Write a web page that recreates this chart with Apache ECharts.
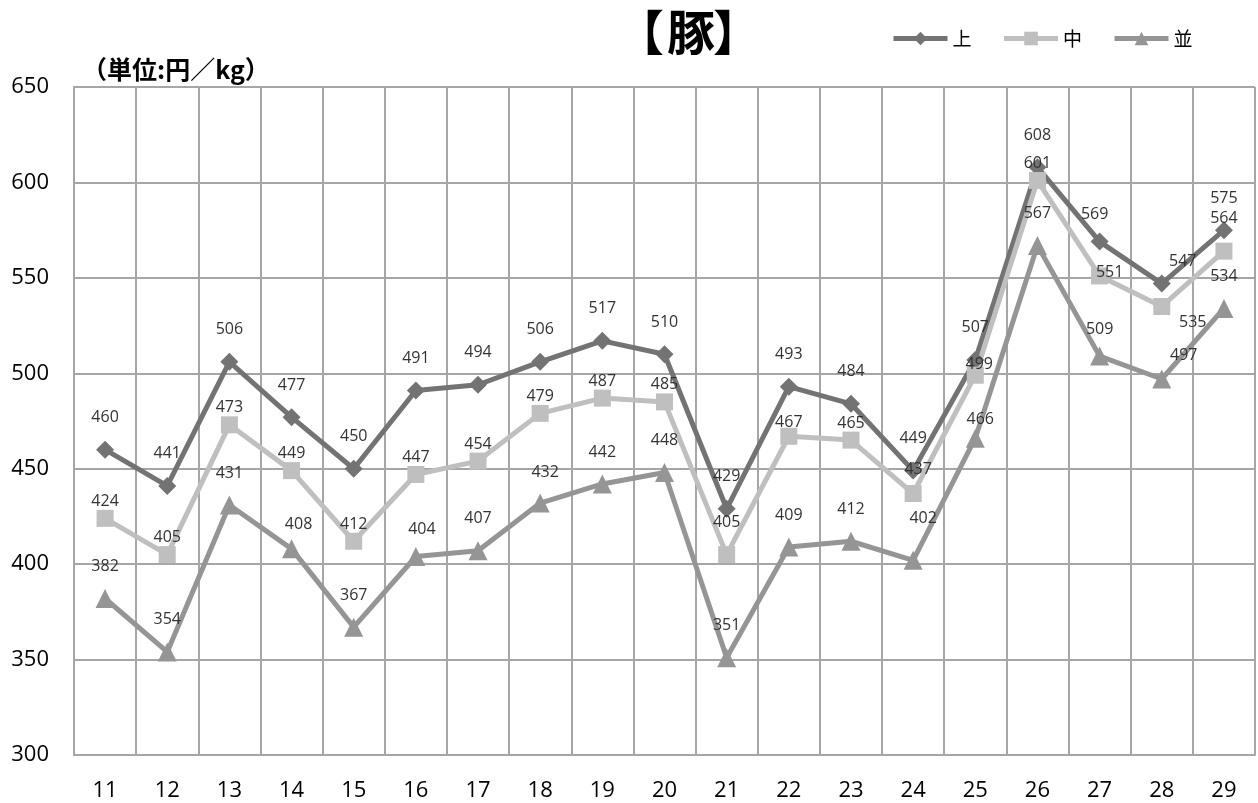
<!DOCTYPE html>
<html><head><meta charset="utf-8">
<script src="https://cdn.jsdelivr.net/npm/echarts@6/dist/echarts.min.js"></script>
<style>html,body{margin:0;padding:0;background:#fff}#c{width:1258px;height:803px}</style>
</head><body><div id="c"></div>
<script>
const categories = ['11','12','13','14','15','16','17','18','19','20','21','22','23','24','25','26','27','28','29'];
const seriesNames = ['上','中','並'];
const joValues   = [460,441,506,477,450,491,494,506,517,510,429,493,484,449,507,608,569,547,575];
const nakaValues = [424,405,473,449,412,447,454,479,487,485,405,467,465,437,499,601,551,535,564];
const namiValues = [382,354,431,408,367,404,407,432,442,448,351,409,412,402,466,567,509,497,534];
const yMin = 300, yMax = 650, yInterval = 50;

// presentation only: label offsets relative to the marker
const labelDefaultDy = [-32, -17, -32];
const labelOffsetOverrides = [
  {16:[-5,-27], 17:[21,-22]},
  {10:[0,-32], 11:[0,-14], 13:[5,-24], 14:[4,-11], 16:[10,-4], 17:[31,16], 18:[0,-33]},
  {3:[7,-24], 5:[6,-27], 7:[5,-31], 13:[10,-42], 14:[5,-19], 16:[0,-27], 17:[22,-24]}
];
const colors = ['#737373', '#bfbfbf', '#959595'];
const symbols = ['diamond', 'rect', 'triangle'];
const symbolSizes = [18, 17, 19];
const allValues = [joValues, nakaValues, namiValues];
const gridColor = '#a6a6a6';
const numFont = 'Open Sans';
const cjkFont = 'Noto Sans CJK JP';

const chart = echarts.init(document.getElementById('c'));
const series = allValues.map((vals, si) => ({
  name: seriesNames[si],
  type: 'line',
  data: vals.map((v, i) => ({
    value: v,
    label: { offset: labelOffsetOverrides[si][i] || [0, labelDefaultDy[si]] }
  })),
  symbol: symbols[si],
  symbolSize: symbolSizes[si],
  itemStyle: { color: colors[si] },
  lineStyle: { color: colors[si], width: 5 },
  label: { show: true, position: 'inside', color: '#333', fontSize: 16, fontFamily: numFont },
  emphasis: { disabled: true },
  animation: false
}));

chart.setOption({
  animation: false,
  backgroundColor: '#fff',
  grid: { left: 74, right: 3, top: 87, bottom: 48, containLabel: false },
  legend: {
    data: seriesNames,
    left: 886, top: 24,
    itemWidth: 54, itemHeight: 17, itemGap: 30,
    lineStyle: { width: 5 },
    textStyle: { fontSize: 19, color: '#000', fontFamily: cjkFont }
  },
  graphic: [
    { type: 'text', left: 616, top: 8, style: { text: '【', fontSize: 48, fontWeight: 'bold', fontFamily: cjkFont, fill: '#000' } },
    { type: 'text', left: 667, top: 8, style: { text: '豚', fontSize: 48, fontWeight: 'bold', fontFamily: cjkFont, fill: '#000' } },
    { type: 'text', left: 713, top: 8, style: { text: '】', fontSize: 48, fontWeight: 'bold', fontFamily: cjkFont, fill: '#000' } },
    { type: 'text', left: 82, top: 57, style: { text: '（単位:円／kg）', fontSize: 25, fontWeight: 'bold', fontFamily: cjkFont, fill: '#000' } }
  ],
  xAxis: {
    type: 'category', data: categories, boundaryGap: true,
    axisLine: { show: true, lineStyle: { color: gridColor, width: 2 } },
    axisTick: { show: false },
    splitLine: { show: true, showMinLine: true, showMaxLine: true, lineStyle: { color: gridColor, width: 2 } },
    axisLabel: { fontSize: 22, color: '#000', margin: 25, fontFamily: numFont }
  },
  yAxis: {
    type: 'value', min: yMin, max: yMax, interval: yInterval,
    axisLine: { show: true, lineStyle: { color: gridColor, width: 2 } },
    axisTick: { show: false },
    splitLine: { show: true, lineStyle: { color: gridColor, width: 2 } },
    axisLabel: { fontSize: 22, color: '#000', margin: 25, fontFamily: numFont }
  },
  series: series
});
</script>
</body></html>
